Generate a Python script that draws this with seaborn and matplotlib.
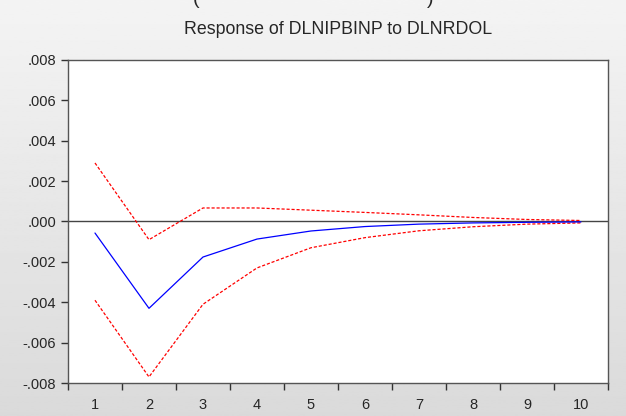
import seaborn as sns
import matplotlib.pyplot as plt
import matplotlib.ticker as mticker
import numpy as np
import pandas as pd

periods = [1, 2, 3, 4, 5, 6, 7, 8, 9, 10]
response = [-0.00057, -0.0043, -0.00176, -0.00087, -0.00047, -0.00025, -0.00013, -0.00007, -0.00004, -0.00002]
upper_band = [0.0029, -0.0009, 0.00067, 0.00067, 0.00056, 0.00045, 0.00033, 0.0002, 0.0001, 0.00005]
lower_band = [-0.0039, -0.0077, -0.0041, -0.0023, -0.0013, -0.0008, -0.00046, -0.00026, -0.00013, -0.00007]
y_ticks = [-0.008, -0.006, -0.004, -0.002, 0.0, 0.002, 0.004, 0.006, 0.008]

sns.set_style("white")
plt.rcParams['font.family'] = ['Liberation Sans', 'DejaVu Sans']

df = pd.DataFrame({'period': periods, 'response': response,
                   'upper': upper_band, 'lower': lower_band})

fig = plt.figure(figsize=(6.26, 4.16), dpi=100, facecolor='#ececec')

# grey gradient backdrop, lighter at the top
bg = fig.add_axes([0, 0, 1, 1], zorder=-10)
bg.imshow(np.linspace(0.955, 0.855, 256).reshape(-1, 1), cmap='gray', vmin=0, vmax=1,
          aspect='auto', extent=[0, 1, 0, 1])
bg.axis('off')

ax = fig.add_axes([0.1086, 0.0793, 0.8626, 0.7765])
ax.set_facecolor('white')

ax.axhline(0, color='#444444', lw=1.0, zorder=1)
sns.lineplot(data=df, x='period', y='response', color='blue', lw=0.9, ax=ax, zorder=3)
sns.lineplot(data=df, x='period', y='upper', color='red', lw=0.9, ls=(0, (2.5, 1.5)), ax=ax, zorder=2)
sns.lineplot(data=df, x='period', y='lower', color='red', lw=0.9, ls=(0, (2.5, 1.5)), ax=ax, zorder=2)

ax.set_xlim(0.5, 10.5)
ax.set_ylim(-0.008, 0.008)
ax.set_yticks(y_ticks)
ax.yaxis.set_major_formatter(mticker.FuncFormatter(
    lambda v, p: ('-' if v < -1e-12 else '') + ('%.3f' % abs(v))[1:]))
ax.set_xticks([p + 0.5 for p in periods[:-1]] + [0.5, 10.5])
ax.set_xticklabels([])
ax.xaxis.set_minor_locator(mticker.FixedLocator(periods))
ax.xaxis.set_minor_formatter(mticker.FixedFormatter([str(p) for p in periods]))
ax.tick_params(axis='x', which='minor', length=0, labelsize=10.5, pad=11)
ax.tick_params(axis='x', which='major', length=5, width=1, direction='out', color='#333333')
ax.tick_params(axis='y', length=5, width=1, direction='out', labelsize=10.5, color='#333333')
ax.tick_params(left=True, bottom=True)
for s in ax.spines.values():
    s.set_color('#555555')
    s.set_linewidth(1.0)

ax.set_xlabel('')
ax.set_ylabel('')
ax.set_title('Response of DLNIPBINP to DLNRDOL', fontsize=12.8, pad=19)
fig.text(0.313, 1.0, '(', fontsize=14, va='center', ha='center')
fig.text(0.687, 1.0, ')', fontsize=14, va='center', ha='center')

fig.savefig('out.png', dpi=100, facecolor=fig.get_facecolor())
